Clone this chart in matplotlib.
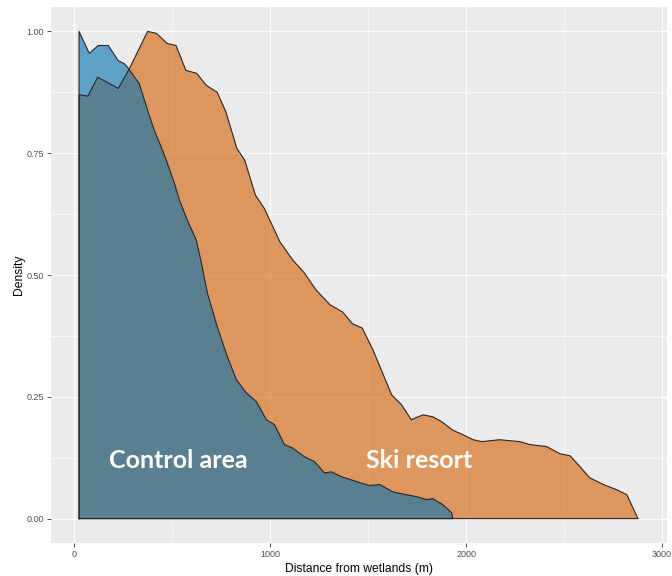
import numpy as np
import matplotlib.pyplot as plt

# density curves (distance in m, scaled density)
ski_x = [25, 70, 120, 225, 280, 375, 420, 475, 520, 570, 625, 675, 730, 775,
         830, 870, 925, 970, 1050, 1115, 1175, 1235, 1305, 1370, 1420, 1470,
         1525, 1620, 1670, 1720, 1780, 1830, 1875, 1930, 1985, 2035, 2080,
         2170, 2275, 2325, 2410, 2480, 2530, 2580, 2630, 2700, 2770, 2820, 2877]
ski_y = [0.870, 0.867, 0.906, 0.883, 0.922, 1.000, 0.996, 0.975, 0.971, 0.920,
         0.914, 0.889, 0.875, 0.834, 0.760, 0.736, 0.664, 0.637, 0.568, 0.531,
         0.504, 0.469, 0.439, 0.424, 0.400, 0.391, 0.346, 0.254, 0.234, 0.203,
         0.213, 0.209, 0.199, 0.182, 0.172, 0.162, 0.158, 0.162, 0.158, 0.152,
         0.148, 0.133, 0.129, 0.107, 0.084, 0.070, 0.059, 0.049, 0.000]

ctrl_x = [25, 77, 123, 174, 225, 255, 281, 332, 383, 409, 445, 470, 511, 537,
          577, 623, 649, 680, 731, 782, 828, 879, 930, 981, 1022, 1073, 1114,
          1175, 1226, 1277, 1313, 1364, 1441, 1507, 1559, 1625, 1696, 1748,
          1799, 1829, 1880, 1926, 1932]
ctrl_y = [1.000, 0.955, 0.971, 0.971, 0.940, 0.934, 0.922, 0.893, 0.828, 0.797,
          0.762, 0.736, 0.689, 0.654, 0.613, 0.572, 0.525, 0.463, 0.393, 0.332,
          0.285, 0.258, 0.240, 0.203, 0.193, 0.152, 0.145, 0.127, 0.117, 0.094,
          0.096, 0.086, 0.076, 0.068, 0.070, 0.055, 0.049, 0.045, 0.039, 0.041,
          0.029, 0.012, 0.000]

x_ticks = [0, 1000, 2000, 3000]
y_ticks = [0.00, 0.25, 0.50, 0.75, 1.00]

fig = plt.figure(figsize=(6.72, 5.76), dpi=100)
ax = fig.add_axes([0.0759, 0.0573, 0.9167, 0.9305])
ax.set_facecolor('#EBEBEB')

# ggplot-like grid
for v in [500, 1500, 2500]:
    ax.axvline(v, color='white', lw=0.45, zorder=0)
for v in [0.125, 0.375, 0.625, 0.875]:
    ax.axhline(v, color='white', lw=0.45, zorder=0)
for v in x_ticks:
    ax.axvline(v, color='white', lw=0.9, zorder=0)
for v in y_ticks:
    ax.axhline(v, color='white', lw=0.9, zorder=0)

def area(x, y, colour):
    # close polygon down to zero at both ends
    px = [x[0]] + list(x) + [x[-1]]
    py = [0] + list(y) + [0]
    ax.fill(px, py, facecolor=colour, alpha=0.6, edgecolor='none', zorder=2)
    ax.plot(px + [px[0]], py + [py[0]], color='#262626', lw=0.8, zorder=3)

area(ski_x, ski_y, '#D55E00')
area(ctrl_x, ctrl_y, '#0072B2')

ax.text(529, 0.119, 'Control area', color='white', fontsize=18,
        fontweight='bold', family=['Lato', 'DejaVu Sans'],
        ha='center', va='center', zorder=5)
ax.text(1760, 0.119, 'Ski resort', color='white', fontsize=18,
        fontweight='bold', family=['Lato', 'DejaVu Sans'],
        ha='center', va='center', zorder=5)

ax.set_xlim(-118, 3025)
ax.set_ylim(-0.05, 1.05)
ax.set_xticks(x_ticks)
ax.set_yticks(y_ticks)
ax.set_yticklabels(['0.00', '0.25', '0.50', '0.75', '1.00'])
ax.tick_params(length=3, width=0.6, color='#333333', labelcolor='#4D4D4D',
               labelsize=6.5, pad=2)
for lab in ax.get_xticklabels() + ax.get_yticklabels():
    lab.set_family('Liberation Sans')
for s in ax.spines.values():
    s.set_visible(False)

ax.set_xlabel('Distance from wetlands (m)', fontsize=8.7,
              family='Liberation Sans', labelpad=3)
ax.set_ylabel('Density', fontsize=8.7, family='Liberation Sans', labelpad=1)

fig.savefig('out.png', dpi=100)
